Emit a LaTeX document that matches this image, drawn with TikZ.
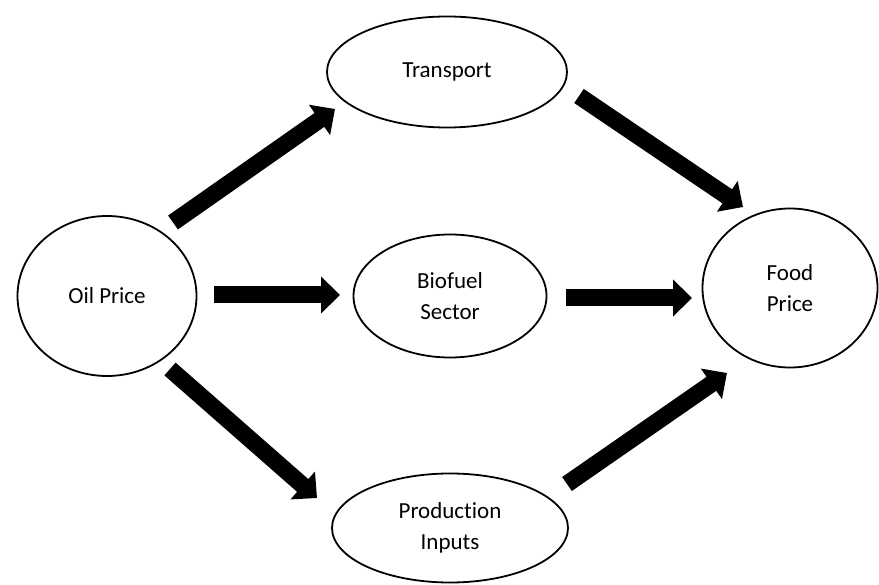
\documentclass[tikz,border=0pt]{standalone}
\usepackage{fontspec}
\setmainfont{Carlito}[Ligatures={NoCommon}]
\usetikzlibrary{shapes.geometric,arrows.meta}
\begin{document}
\begin{tikzpicture}[x=1pt,y=-1pt,
  bubble/.style={draw=black,line width=1.8pt,ellipse,inner sep=0pt,align=center,
    font=\fontsize{23}{31}\selectfont},
  blockarrow/.style={line width=17pt,-{Triangle[width=36pt,length=19pt]}}]
\useasboundingbox (0,0) rectangle (879,585);
\node[bubble,minimum width=179pt,minimum height=160pt] (oil) at (107,296) {Oil Price};
\node[bubble,minimum width=240pt,minimum height=111pt] (trans) at (447,72) {Transport};
\node[bubble,minimum width=193pt,minimum height=123pt] (bio) at (450,296) {Biofuel\\Sector};
\node[bubble,minimum width=236pt,minimum height=109pt] (prod) at (450,528) {Production\\Inputs};
\node[bubble,minimum width=175pt,minimum height=159pt] (food) at (790,288) {Food\\Price};
\coordinate (a1s) at (173,222.5); \coordinate (a1e) at (335,109);
\coordinate (a2s) at (579,96);    \coordinate (a2e) at (743,207);
\coordinate (a3s) at (170,369);   \coordinate (a3e) at (317,498);
\coordinate (a4s) at (567,484);   \coordinate (a4e) at (727,373);
\coordinate (a5s) at (214,295);   \coordinate (a5e) at (340,295);
\coordinate (a6s) at (566,298);   \coordinate (a6e) at (692,298);
\draw[blockarrow] (a1s) -- (a1e);
\draw[blockarrow] (a2s) -- (a2e);
\draw[blockarrow] (a3s) -- (a3e);
\draw[blockarrow] (a4s) -- (a4e);
\draw[blockarrow] (a5s) -- (a5e);
\draw[blockarrow] (a6s) -- (a6e);
\end{tikzpicture}
\end{document}
